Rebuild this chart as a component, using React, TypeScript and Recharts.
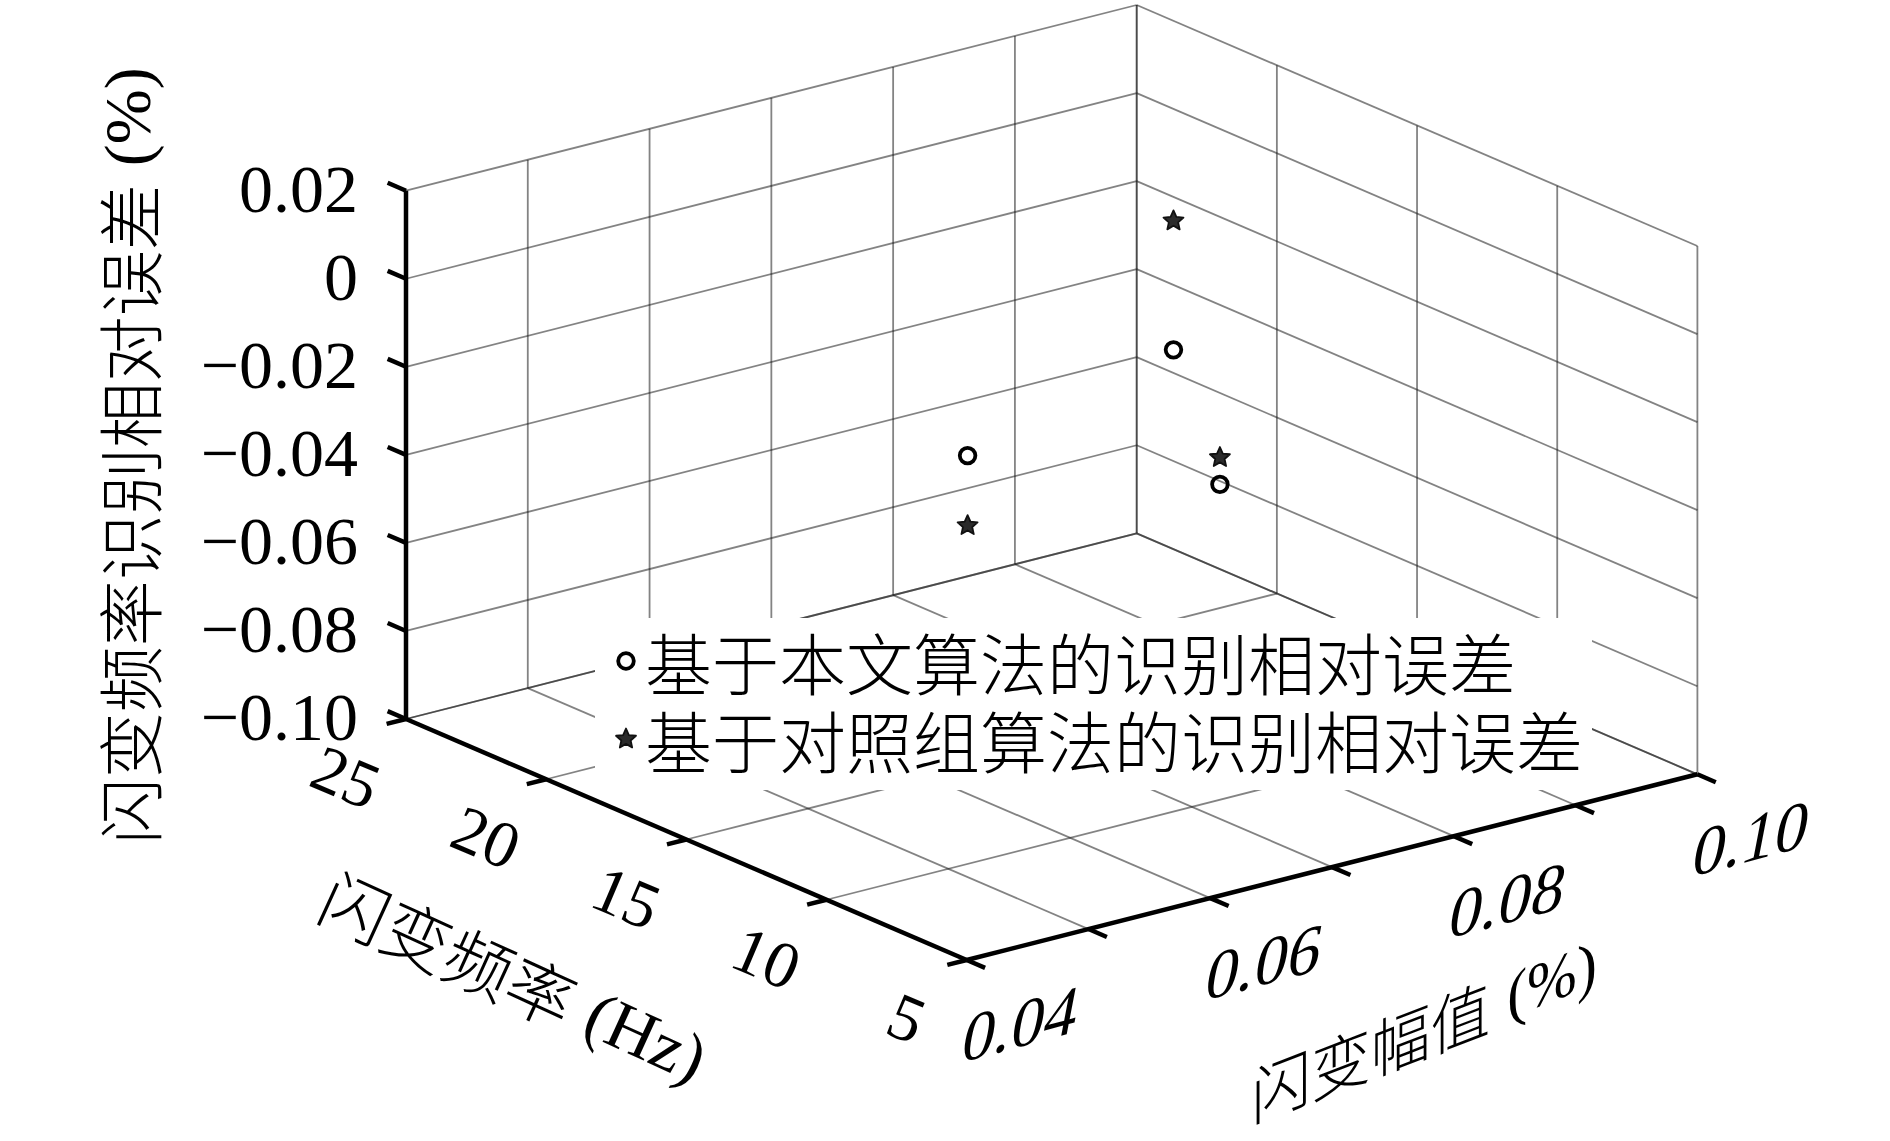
import React from 'react';
import { ScatterChart, Scatter, XAxis, YAxis, ReferenceLine, Legend } from 'recharts';

// ---------------- data ----------------
const ampTicks = [0.04, 0.05, 0.06, 0.07, 0.08, 0.09, 0.1];
const ampLabelValues = [0.04, 0.06, 0.08, 0.1];
const ampLabels = ['0.04', '0.06', '0.08', '0.10'];
const freqTicks = [25, 20, 15, 10, 5];
const freqLabels = ['25', '20', '15', '10', '5'];
const errTicks = [0.02, 0, -0.02, -0.04, -0.06, -0.08, -0.1];
const errLabels = ['0.02', '0', '\u22120.02', '\u22120.04', '\u22120.06', '\u22120.08', '\u22120.10'];

// flicker amplitude (%), flicker frequency (Hz) of the test points
const pointAmp = [0.07, 0.08, 0.07];
const pointFreq = [18, 15, 9];
// identification relative error (%)
const proposedErr = [-0.0421, -0.0169, -0.024];
const controlErr = [-0.058, 0.0124, -0.0179];

const seriesNames = ['基于本文算法的识别相对误差', '基于对照组算法的识别相对误差'];
const ampTitle = ['闪变幅值', '(%)'];
const freqTitle = ['闪变频率', '(Hz)'];
const errTitle = ['闪变频率识别相对误差', '(%)'];

// ---------------- layout / projection ----------------
const W = 1890;
const H = 1141;
const AMP_RANGE = [0.04, 0.1];
const FREQ_RANGE = [25, 5];
const ERR_RANGE = [-0.1, 0.02];
const ORIGIN = [406, 719];
const AXIS_A = [730.7, -185.7];
const AXIS_F = [560.7, 241];
const AXIS_Z = [0, -528.3];
const TICK_LEN = 20;

const SERIF = '"Liberation Serif", "DejaVu Serif", serif';
const CJK = '"Noto Sans CJK SC", "Noto Sans CJK JP", sans-serif';

type P = { x: number; y: number };

function project(a: number, f: number, z: number): P {
  const u = (a - AMP_RANGE[0]) / (AMP_RANGE[1] - AMP_RANGE[0]);
  const v = (f - FREQ_RANGE[0]) / (FREQ_RANGE[1] - FREQ_RANGE[0]);
  const w = (z - ERR_RANGE[0]) / (ERR_RANGE[1] - ERR_RANGE[0]);
  return {
    x: ORIGIN[0] + u * AXIS_A[0] + v * AXIS_F[0] + w * AXIS_Z[0],
    y: ORIGIN[1] + u * AXIS_A[1] + v * AXIS_F[1] + w * AXIS_Z[1],
  };
}
const norm = (v: number[]) => {
  const l = Math.hypot(v[0], v[1]);
  return [v[0] / l, v[1] / l];
};
const UA = norm(AXIS_A);
const UF = norm(AXIS_F);
const off = (p: P, d: number[], k: number): P => ({ x: p.x + d[0] * k, y: p.y + d[1] * k });

const aMin = AMP_RANGE[0], aMax = AMP_RANGE[1];
const fBack = FREQ_RANGE[0], fFront = FREQ_RANGE[1];
const zMin = ERR_RANGE[0], zMax = ERR_RANGE[1];

// grid lines on the three visible walls
const gridSegs: P[][] = [];
ampTicks.forEach((a) => {
  gridSegs.push([project(a, fBack, zMin), project(a, fBack, zMax)]); // left wall verticals
  gridSegs.push([project(a, fBack, zMin), project(a, fFront, zMin)]); // floor
});
freqTicks.forEach((f) => {
  gridSegs.push([project(aMax, f, zMin), project(aMax, f, zMax)]); // right wall verticals
  gridSegs.push([project(aMin, f, zMin), project(aMax, f, zMin)]); // floor
});
errTicks.forEach((z) => {
  gridSegs.push([project(aMin, fBack, z), project(aMax, fBack, z)]);
  gridSegs.push([project(aMax, fBack, z), project(aMax, fFront, z)]);
});

const axisSegs: P[][] = [
  [project(aMin, fBack, zMin), project(aMin, fBack, zMax)],
  [project(aMin, fBack, zMin), project(aMin, fFront, zMin)],
  [project(aMin, fFront, zMin), project(aMax, fFront, zMin)],
];
const tickSegs: P[][] = [
  ...errTicks.map((z) => {
    const p = project(aMin, fBack, z);
    return [p, off(p, UF, -TICK_LEN)];
  }),
  ...freqTicks.map((f) => {
    const p = project(aMin, f, zMin);
    return [p, off(p, UA, -TICK_LEN)];
  }),
  ...ampTicks.map((a) => {
    const p = project(a, fFront, zMin);
    return [p, off(p, UF, TICK_LEN)];
  }),
];

// data points
const proposedPts = pointAmp.map((a, i) => ({ ...project(a, pointFreq[i], proposedErr[i]) }));
const controlPts = pointAmp.map((a, i) => ({ ...project(a, pointFreq[i], controlErr[i]) }));

// label anchors
const errLabelPts = errTicks.map((z, i) => {
  const p = project(aMin, fBack, z);
  return { x: p.x - 48, y: p.y - 2, text: errLabels[i] };
});
const freqLabelPts = freqTicks.map((f, i) => {
  const p = project(aMin, f, zMin);
  return { x: p.x - 60, y: p.y + 58, text: freqLabels[i] };
});
const ampLabelPts = ampLabelValues.map((a, i) => {
  const p = project(a, fFront, zMin);
  return { x: p.x + 54, y: p.y + 64, text: ampLabels[i] };
});
const midF = project(aMin, (fBack + fFront) / 2, zMin);
const midA = project((aMin + aMax) / 2, fFront, zMin);
const midZ = project(aMin, fBack, (zMin + zMax) / 2);
const freqTitlePt = [{ x: midF.x - 172, y: midF.y + 137 }];
const ampTitlePt = [{ x: midA.x + 92, y: midA.y + 161 }];
const errTitlePt = [{ x: midZ.x - 279, y: midZ.y + 1 }];

// ---------------- shapes ----------------
const starPath = (cx: number, cy: number, R: number, r: number) => {
  let d = '';
  for (let k = 0; k < 10; k++) {
    const rad = k % 2 === 0 ? R : r;
    const ang = -Math.PI / 2 + (k * Math.PI) / 5;
    d += (k === 0 ? 'M' : 'L') + (cx + rad * Math.cos(ang)).toFixed(2) + ' ' + (cy + rad * Math.sin(ang)).toFixed(2);
  }
  return d + 'Z';
};
const CircleMark = (props: any) => (
  <circle cx={props.cx} cy={props.cy} r={7.8} fill="none" stroke="#000" strokeWidth={3.8} />
);
const StarMark = (props: any) => (
  <path d={starPath(props.cx, props.cy, 10.5, 4.9)} fill="#2b2b2b" stroke="#111" strokeWidth={1.8} strokeLinejoin="round" />
);

const mtx = (m: number[], x: number, y: number) => `matrix(${m[0]} ${m[1]} ${m[2]} ${m[3]} ${x} ${y})`;
const rot = (deg: number) => {
  const r = (deg * Math.PI) / 180;
  return [Math.cos(r), Math.sin(r), -Math.sin(r), Math.cos(r)];
};

const ErrLabel = (props: any) => (
  <text x={props.cx} y={props.cy} textAnchor="end" dominantBaseline="central" fontFamily={SERIF} fontSize={68} fill="#000">
    {props.payload.text}
  </text>
);
const FreqLabel = (props: any) => (
  <text transform={mtx(rot(23), props.cx, props.cy)} textAnchor="middle" dominantBaseline="central" fontFamily={SERIF} fontSize={66} fill="#000">
    {props.payload.text}
  </text>
);
const ampM = [0.966, -0.259, -0.2, 1.04];
const AmpLabel = (props: any) => (
  <text transform={mtx(ampM, props.cx, props.cy)} textAnchor="middle" dominantBaseline="central" fontFamily={SERIF} fontSize={68} fill="#000">
    {props.payload.text}
  </text>
);
const FreqTitle = (props: any) => (
  <text transform={mtx(rot(24.5), props.cx, props.cy)} textAnchor="middle" dominantBaseline="central" fontFamily={CJK} fontWeight={300} fontSize={68} fill="#000">
    {freqTitle[0]}
    <tspan fontFamily={SERIF} dx={18}>{freqTitle[1]}</tspan>
  </text>
);
const ampTitleM = [0.934, -0.358, 0, 1];
const AmpTitle = (props: any) => (
  <text transform={mtx(ampTitleM, props.cx, props.cy)} textAnchor="middle" dominantBaseline="central" fontFamily={CJK} fontWeight={300} fontSize={64} fill="#000">
    {ampTitle[0]}
    <tspan fontFamily={SERIF} dx={18}>{ampTitle[1]}</tspan>
  </text>
);
const ErrTitle = (props: any) => (
  <text transform={mtx(rot(-90), props.cx, props.cy)} textAnchor="middle" dominantBaseline="central" fontFamily={CJK} fontWeight={300} fontSize={66} fill="#000">
    {errTitle[0]}
    <tspan fontFamily={SERIF} dx={18}>{errTitle[1]}</tspan>
  </text>
);

const LegendBox = () => (
  <div style={{ position: 'relative', width: '100%', height: '100%', background: '#fff' }}>
    {seriesNames.map((name, i) => (
      <div
        key={name}
        style={{
          position: 'absolute',
          left: 0,
          top: (i === 0 ? 42.5 : 121) - 34,
          height: 68,
          display: 'flex',
          alignItems: 'center',
          whiteSpace: 'nowrap',
          overflow: 'visible',
        }}
      >
        <svg width={50} height={30} style={{ display: 'block' }}>
          {i === 0 ? <CircleMark cx={31} cy={15} /> : <StarMark cx={31} cy={15} />}
        </svg>
        <div
          style={{
            display: 'block',
            height: 68,
            lineHeight: '68px',
            fontFamily: CJK,
            fontWeight: 300,
            fontSize: 67,
            color: '#000',
            overflow: 'visible',
          }}
        >
          {name}
        </div>
      </div>
    ))}
  </div>
);

export default function App() {
  return (
    <div style={{ position: 'absolute', left: 0, top: 0, width: W, height: H, background: '#fff' }}>
      <ScatterChart width={W} height={H} margin={{ top: 0, right: 0, bottom: 0, left: 0 }}>
        <XAxis type="number" dataKey="x" domain={[0, W]} hide allowDataOverflow />
        <YAxis type="number" dataKey="y" domain={[0, H]} reversed hide allowDataOverflow />
        {gridSegs.map((s, i) => (
          <ReferenceLine key={'g' + i} segment={s} stroke="#1e1e1e" strokeOpacity={0.55} strokeWidth={1.8} ifOverflow="visible" />
        ))}
        {axisSegs.map((s, i) => (
          <ReferenceLine key={'a' + i} segment={s} stroke="#000" strokeWidth={4.5} ifOverflow="visible" />
        ))}
        {tickSegs.map((s, i) => (
          <ReferenceLine key={'t' + i} segment={s} stroke="#000" strokeWidth={4.5} ifOverflow="visible" />
        ))}
        <Scatter name={seriesNames[0]} data={proposedPts} shape={CircleMark} isAnimationActive={false} />
        <Scatter name={seriesNames[1]} data={controlPts} shape={StarMark} isAnimationActive={false} />
        <Scatter data={errLabelPts} shape={ErrLabel} isAnimationActive={false} legendType="none" />
        <Scatter data={freqLabelPts} shape={FreqLabel} isAnimationActive={false} legendType="none" />
        <Scatter data={ampLabelPts} shape={AmpLabel} isAnimationActive={false} legendType="none" />
        <Scatter data={freqTitlePt} shape={FreqTitle} isAnimationActive={false} legendType="none" />
        <Scatter data={ampTitlePt} shape={AmpTitle} isAnimationActive={false} legendType="none" />
        <Scatter data={errTitlePt} shape={ErrTitle} isAnimationActive={false} legendType="none" />
        <Legend
          layout="vertical"
          align="center"
          verticalAlign="middle"
          content={() => <LegendBox />}
          wrapperStyle={{ left: 595, top: 618, width: 997, height: 172 }}
        />
      </ScatterChart>
    </div>
  );
}
